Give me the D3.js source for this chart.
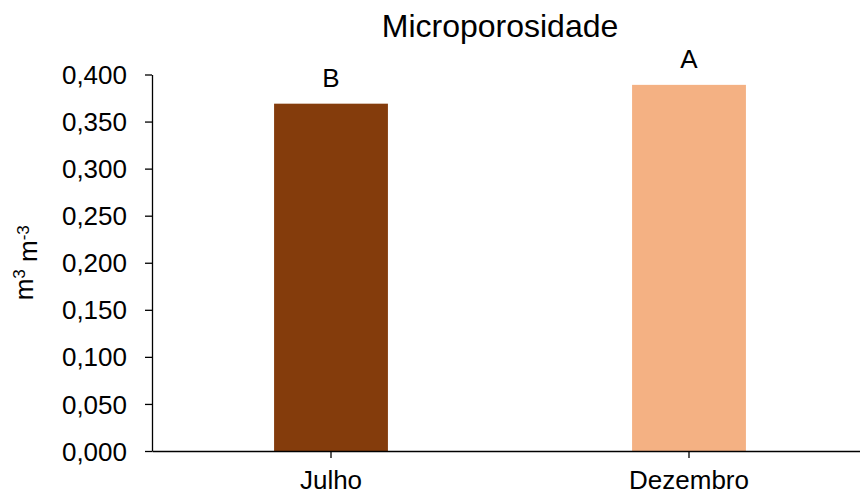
<!DOCTYPE html>
<html>
<head>
<meta charset="utf-8">
<script src="https://cdn.jsdelivr.net/npm/d3@7"></script>
<style>
    body { margin: 0; background: #fff; }
    text { font-family: "Liberation Sans", Arial, sans-serif; fill: #000; }
</style>
</head>
<body>
<svg id="chart" width="860" height="498"></svg>
<script>
// chart data
var categories = ["Julho", "Dezembro"];
var values = [0.369, 0.389];
var letters = ["B", "A"];
var colors = ["#843C0C", "#F4B183"];
var yTicks = [0, 0.05, 0.1, 0.15, 0.2, 0.25, 0.3, 0.35, 0.4];

var svg = d3.select("#chart");

// comma as decimal separator
var locale = d3.formatLocale({ decimal: ",", thousands: ".", grouping: [3], currency: ["R$", ""] });
var fmt = locale.format(".3f");

// scales
var x = d3.scaleBand()
    .domain(categories)
    .range([152, 868])
    .padding(0);
var y = d3.scaleLinear()
    .domain([0, 0.4])
    .range([451, 74.5]);

var barWidth = x.bandwidth() * 0.318;

// bars
svg.selectAll("rect.bar")
    .data(values)
    .enter()
    .append("rect")
    .attr("class", "bar")
    .attr("x", function(d, i) { return x(categories[i]) + x.bandwidth() / 2 - barWidth / 2; })
    .attr("y", function(d) { return y(d); })
    .attr("width", barWidth)
    .attr("height", function(d) { return y(0) - y(d); })
    .attr("fill", function(d, i) { return colors[i]; });

// y axis
var yAxis = d3.axisLeft(y)
    .tickValues(yTicks)
    .tickFormat(fmt)
    .tickSize(7)
    .tickSizeOuter(0)
    .tickPadding(18);
var gY = svg.append("g")
    .attr("transform", "translate(152,0)")
    .call(yAxis);
gY.selectAll("text").style("font-size", "26px").attr("dy", "0.35em");
gY.selectAll("line, path").attr("stroke", "#000").attr("stroke-width", 1.3);

// x axis
var xAxis = d3.axisBottom(x)
    .tickSize(7)
    .tickSizeOuter(0)
    .tickPadding(13);
var gX = svg.append("g")
    .attr("transform", "translate(0," + y(0) + ")")
    .call(xAxis);
gX.selectAll("text").style("font-size", "26px");
gX.selectAll("line, path").attr("stroke", "#000").attr("stroke-width", 1.3);

// letters above bars
svg.selectAll("text.letter")
    .data(values)
    .enter()
    .append("text")
    .attr("class", "letter")
    .attr("x", function(d, i) { return x(categories[i]) + x.bandwidth() / 2; })
    .attr("y", function(d) { return y(d) - 17; })
    .attr("text-anchor", "middle")
    .style("font-size", "26px")
    .text(function(d, i) { return letters[i]; });

// title
svg.append("text")
    .attr("x", 500)
    .attr("y", 37)
    .attr("text-anchor", "middle")
    .style("font-size", "32px")
    .text("Microporosidade");

// y axis label m3 m-3
var yLabel = svg.append("text")
    .attr("transform", "translate(33," + (y(0.2)) + ") rotate(-90)")
    .attr("text-anchor", "middle")
    .style("font-size", "26px");
yLabel.append("tspan").text("m");
yLabel.append("tspan").attr("dy", "-0.45em").style("font-size", "17px").text("3");
yLabel.append("tspan").attr("dy", "0.45em").text(" m");
yLabel.append("tspan").attr("dy", "-0.45em").style("font-size", "17px").text("-3");
</script>
</body>
</html>
